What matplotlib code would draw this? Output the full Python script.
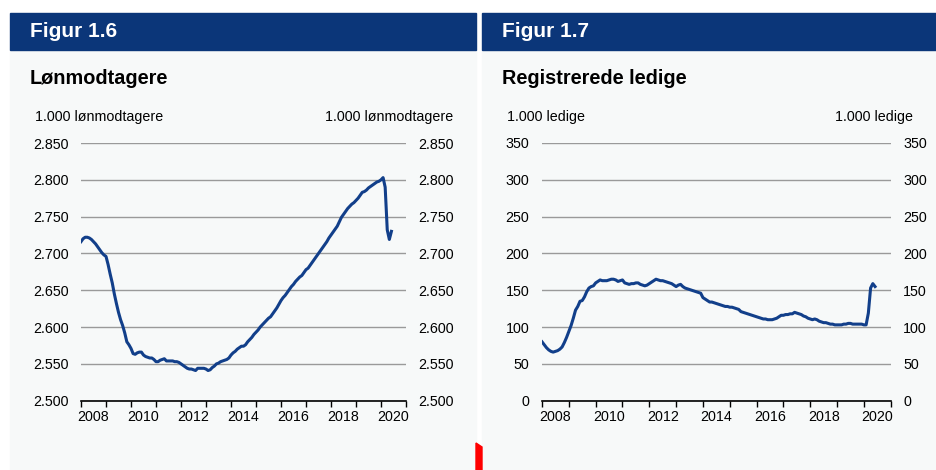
import matplotlib.pyplot as plt
from matplotlib.patches import Rectangle, Polygon
import numpy as np

# monthly values, Jan 2008 - Jun 2020
loenmodtagere = [
    2716, 2720, 2722, 2722, 2721, 2719, 2716, 2713, 2709, 2705, 2701, 2698,
    2696, 2685, 2672, 2660, 2645, 2632, 2620, 2610, 2602, 2592, 2580, 2576,
    2571, 2564, 2563, 2565, 2566, 2566, 2562, 2560, 2559, 2558, 2558, 2556,
    2553, 2553, 2555, 2556, 2557, 2554, 2554, 2554, 2554, 2553, 2553, 2552,
    2550, 2548, 2546, 2544, 2543, 2543, 2542, 2541, 2544, 2544, 2544, 2544,
    2543, 2541, 2542, 2545, 2547, 2550, 2551, 2553, 2554, 2555, 2556, 2558,
    2562, 2565, 2567, 2570, 2572, 2574, 2574, 2576, 2580, 2583, 2586, 2590,
    2593, 2596, 2600, 2603, 2606, 2609, 2612, 2614, 2618, 2622, 2626, 2631,
    2636, 2640, 2643, 2647, 2651, 2655, 2658, 2662, 2665, 2668, 2670, 2674,
    2678, 2680, 2684, 2688, 2692, 2696, 2700, 2704, 2708, 2712, 2716, 2721,
    2725, 2729, 2733, 2737, 2743, 2749, 2753, 2757, 2761, 2764, 2767, 2769,
    2772, 2775, 2779, 2783, 2784, 2786, 2789, 2791, 2793, 2795, 2797, 2798,
    2800, 2803, 2790, 2732, 2719, 2730,
]

ledige = [
    80, 76, 72, 69, 67, 66, 67, 68, 70, 73, 79, 86,
    94, 102, 112, 123, 128, 135, 136, 141, 148, 153, 155, 156,
    160, 162, 164, 163, 163, 163, 164, 165, 165, 164, 162, 163,
    164, 160, 159, 158, 159, 159, 160, 160, 158, 157, 156, 157,
    159, 161, 163, 165, 164, 163, 163, 162, 161, 160, 159, 157,
    155, 157, 158, 155, 153, 152, 151, 150, 149, 148, 147, 146,
    140, 138, 136, 134, 134, 133, 132, 131, 130, 129, 128, 128,
    127, 127, 126, 125, 124, 121, 120, 119, 118, 117, 116, 115,
    114, 113, 112, 111, 111, 110, 110, 110, 111, 112, 114, 116,
    116, 117, 117, 118, 118, 120, 119, 118, 117, 115, 114, 112,
    111, 110, 111, 110, 108, 107, 106, 106, 105, 104, 104, 103,
    103, 103, 103, 104, 104, 105, 105, 104, 104, 104, 104, 104,
    103, 103, 119, 153, 159, 155,
]

years = [2008, 2010, 2012, 2014, 2016, 2018, 2020]

NAVY = '#0b3679'
LINE = '#123f8a'
BG = '#f7f9f9'
GRID = '#9a9a9a'

plt.rcParams['font.family'] = ['Liberation Sans', 'DejaVu Sans']

W, H = 936, 470
fig = plt.figure(figsize=(W / 100, H / 100), dpi=100)
fig.patch.set_facecolor('white')


def px(x0, y0, w, h):
    # pixel box (top-left origin) -> figure fraction
    return [x0 / W, 1 - (y0 + h) / H, w / W, h / H]


def panel(x0, x1, fig_title, title, unit, values, lo, hi, step, fmt, ax_x0, ax_x1):
    fig.patches.append(Rectangle((x0 / W, 0), (x1 - x0) / W, 1 - 50 / H,
                                 transform=fig.transFigure, color=BG, zorder=-5))
    fig.patches.append(Rectangle((x0 / W, 1 - 50 / H), (x1 - x0) / W, 37 / H,
                                 transform=fig.transFigure, color=NAVY, zorder=-5))
    fig.text((x0 + 20) / W, 1 - 31.5 / H, fig_title, color='white', fontsize=15,
             fontweight='bold', va='center')
    fig.text((x0 + 20) / W, 1 - 78 / H, title, color='black', fontsize=14.3,
             fontweight='bold', va='center')
    fig.text((x0 + 25) / W, 1 - 117 / H, unit, fontsize=10.3, va='center')
    fig.text((x1 - 23) / W, 1 - 117 / H, unit, fontsize=10.3, va='center', ha='right')

    ax = fig.add_axes(px(ax_x0, 143, ax_x1 - ax_x0, 257.7))
    ax.set_facecolor('none')
    t = 2008 + np.arange(len(values)) / 12
    ax.plot(t, values, color=LINE, lw=2.2, solid_joinstyle='round')
    ax.set_xlim(2008, 2021)
    ax.set_ylim(lo, hi)
    yt = np.arange(lo, hi + step / 2, step)
    ax.set_yticks(yt)
    ax.set_yticklabels([fmt(v) for v in yt])
    ax.tick_params(axis='y', length=0, pad=9, labelsize=10.3,
                   labelright=True, right=False)
    ax.grid(axis='y', color=GRID, lw=1)
    ax.set_axisbelow(True)
    ax.set_xticks(np.arange(2008, 2022, 1))
    ax.set_xticklabels([])
    ax.set_xticks([y + 0.5 for y in years], minor=True)
    ax.set_xticklabels([str(y) for y in years], minor=True)
    ax.tick_params(axis='x', which='major', length=4, width=1, color='black')
    ax.tick_params(axis='x', which='minor', length=0, pad=7, labelsize=10.3)
    for s in ['top', 'left', 'right']:
        ax.spines[s].set_visible(False)
    ax.spines['bottom'].set_color('black')
    ax.spines['bottom'].set_linewidth(1.2)
    ax.spines['bottom'].set_zorder(3)
    return ax


panel(10, 476, 'Figur 1.6', 'Lønmodtagere', '1.000 lønmodtagere', loenmodtagere,
      2500, 2850, 50, lambda v: f'{v / 1000:.3f}', 81, 406)
panel(482, 936, 'Figur 1.7', 'Registrerede ledige', '1.000 ledige', ledige,
      0, 350, 50, lambda v: f'{int(v)}', 542, 890.7)

# red marker at the bottom between the panels
fig.patches.append(Polygon([(476 / W, 0), (482 / W, 0), (482 / W, 1 - 447 / H),
                            (476 / W, 1 - 443 / H)], closed=True,
                           transform=fig.transFigure, color='#ff0000', zorder=-5))

fig.savefig('out.png', dpi=100)
